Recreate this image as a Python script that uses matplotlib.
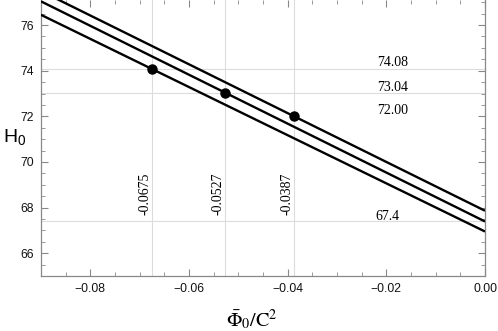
import matplotlib
matplotlib.use("Agg")
import matplotlib.pyplot as plt
from matplotlib.ticker import MultipleLocator

# Data
x_ends = [-0.09, 0.0]
line_low = [76.45, 66.95]
line_mid = [77.04, 67.39]
line_high = [77.49, 67.86]
point_x = [-0.0675, -0.0527, -0.0387]
point_y = [74.08, 73.04, 72.00]
hgrid_vals = [74.08, 73.04, 67.4]
vgrid_labels = ["-0.0675", "-0.0527", "-0.0387"]
hgrid_labels = ["74.08", "73.04", "72.00", "67.4"]
hgrid_label_y = [74.34, 73.26, 72.26, 67.6]
hgrid_label_x = [-0.0187, -0.0187, -0.0187, -0.0197]

plt.rcParams['mathtext.fontset'] = 'stix'

fig = plt.figure(figsize=(4.98, 3.31), dpi=100)
ax = fig.add_axes([41/498, 1-276/331, 444/498, 276/331])

ax.set_xlim(-0.09, 0.0)
ax.set_ylim(65.0, 77.1)

gridc = '#dcdcdc'
for xv in point_x:
    ax.axvline(xv, color=gridc, lw=0.8, zorder=1)
for yv in hgrid_vals:
    ax.axhline(yv, color=gridc, lw=0.8, zorder=1)

for ys in (line_low, line_mid, line_high):
    ax.plot(x_ends, ys, color='black', lw=1.7, zorder=3, solid_capstyle='butt')

ax.plot(point_x, point_y, 'o', color='black', ms=6.5, zorder=4)

for xv, lab in zip(point_x, vgrid_labels):
    ax.text(xv - 0.0002, 68.62, lab, rotation=90, ha='right', va='center',
            family='Liberation Serif', fontsize=10, zorder=5)
for xv, yv, lab in zip(hgrid_label_x, hgrid_label_y, hgrid_labels):
    ax.text(xv, yv, lab, ha='center', va='center',
            family='Liberation Serif', fontsize=10, zorder=5)

ax.xaxis.set_major_locator(MultipleLocator(0.02))
ax.xaxis.set_minor_locator(MultipleLocator(0.005))
ax.yaxis.set_major_locator(MultipleLocator(2))
ax.yaxis.set_minor_locator(MultipleLocator(0.5))
ax.xaxis.set_major_formatter(matplotlib.ticker.FuncFormatter(lambda v, p: ("\u2212%.2f" % abs(v)) if v < -1e-9 else "0.00"))
ax.yaxis.set_major_formatter(matplotlib.ticker.FuncFormatter(lambda v, p: "%d" % round(v)))

spc = '#888888'
for s in ax.spines.values():
    s.set_color(spc)
    s.set_linewidth(0.9)
ax.spines['top'].set_visible(False)
ax.tick_params(which='both', direction='in', top=True, right=True, color=spc,
               labelsize=8.7, labelcolor='#111111', pad=5)
ax.tick_params(which='major', length=5, width=0.8)
ax.tick_params(which='minor', length=3, width=0.6)
for lab in ax.get_xticklabels() + ax.get_yticklabels():
    lab.set_family('Liberation Sans')

fig.text(15/498, 1-137/331, r'$\mathregular{H_0}$', ha='center', va='center',
         family='Liberation Sans', fontsize=14)
fig.text(252/498, 1-320/331, r'$\bar{\Phi}_0/\mathrm{C}^2$', ha='center', va='center',
         fontsize=14.5)

fig.savefig('out.png', dpi=100)
